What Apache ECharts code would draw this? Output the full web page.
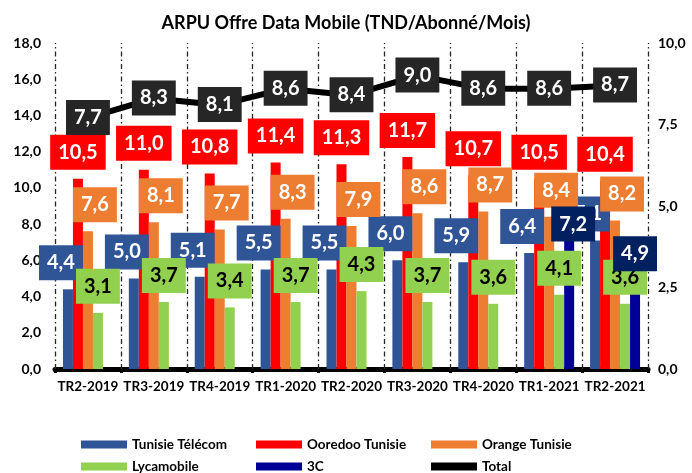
<!DOCTYPE html>
<html>
<head>
<meta charset="utf-8">
<script src="https://cdn.jsdelivr.net/npm/echarts@6/dist/echarts.min.js"></script>
<style>
  html, body { margin: 0; padding: 0; background: #fff; }
  #chart { width: 692px; height: 473px; }
</style>
</head>
<body>
<div id="chart"></div>
<script>
// categories (trimestres)
const categories = ['TR2-2019', 'TR3-2019', 'TR4-2019', 'TR1-2020', 'TR2-2020', 'TR3-2020', 'TR4-2020', 'TR1-2021', 'TR2-2021']

// ARPU par operateur (TND/abonne/mois)
const tunisieTelecom = [4.4, 5.0, 5.1, 5.5, 5.5, 6.0, 5.9, 6.4, 7.1]
const ooredoo = [10.5, 11.0, 10.8, 11.4, 11.3, 11.7, 10.7, 10.5, 10.4]
const orangeTn = [7.6, 8.1, 7.7, 8.3, 7.9, 8.6, 8.7, 8.4, 8.2]
const lycamobile = [3.1, 3.7, 3.4, 3.7, 4.3, 3.7, 3.6, 4.1, 3.6]
const troisC = [null, null, null, null, null, null, null, 7.2, 4.9]
const total = [7.7, 8.3, 8.1, 8.6, 8.4, 9.0, 8.6, 8.6, 8.7]

const leftTicks = { min: 0, max: 18, interval: 2 }
const rightTicks = { min: 0, max: 10, interval: 2.5 }

const FONT = 'Lato, "DejaVu Sans", sans-serif'
const fmt = v => v.toFixed(1).replace('.', ',')

// etiquette "boite" facon Excel
function boxLabel(bg, color, dx) {
  return {
    show: true,
    position: 'top',
    distance: 9,
    offset: [dx || 0, 0],
    backgroundColor: bg,
    color: color,
    fontFamily: FONT,
    fontWeight: 'bold',
    fontSize: 20,
    lineHeight: 21,
    padding: [7, 8, 7, 8],
    formatter: p => (p.value == null ? '' : fmt(p.value))
  }
}

function barSeries(name, data, color, label) {
  return {
    name: name,
    type: 'bar',
    data: data,
    barWidth: 10,
    barGap: '0%',
    itemStyle: { color: color },
    label: label
  }
}

// 3C : l'etiquette de TR1-2021 est placee plus bas
const troisCData = troisC.map((v, i) => {
  if (i === 7) return { value: v, label: { offset: [4, 12] } }
  return v
})

// limites des categories (0..9) pour les separateurs verticaux
const boundaries = categories.map((c, i) => i).concat([categories.length])

const chart = echarts.init(document.getElementById('chart'))

chart.setOption({
  animation: false,
  backgroundColor: '#fff',
  title: {
    text: 'ARPU Offre Data Mobile (TND/Abonné/Mois)',
    left: 'center',
    top: 9,
    textStyle: { fontFamily: FONT, fontWeight: 'bold', fontSize: 18, color: '#000' }
  },
  grid: { left: 55, right: 44, top: 43, bottom: 104 },
  legend: [
    { data: ['Tunisie Télécom', 'Lycamobile'], left: 76 },
    { data: ['Ooredoo Tunisie', '3C'], left: 251 },
    { data: ['Orange Tunisie', 'Total'], left: 426 }
  ].map(l => Object.assign({
    orient: 'vertical',
    top: 431,
    height: 80,
    itemWidth: 46,
    itemHeight: 8,
    itemGap: 5,
    icon: 'rect',
    textStyle: { fontFamily: FONT, fontWeight: 'bold', fontSize: 13.5, color: '#000', lineHeight: 17 }
  }, l)),
  xAxis: [{
    type: 'category',
    data: categories,
    axisLine: { lineStyle: { color: '#000', width: 5 } },
    axisTick: { show: true, interval: 0, length: 4, lineStyle: { color: '#000', width: 3 } },
    axisLabel: { interval: 0, fontFamily: FONT, fontWeight: 'bold', fontSize: 13.5, color: '#000', margin: 11 },
    splitLine: { show: false }
  }, {
    // axe auxiliaire : positions des limites de categories
    type: 'value',
    min: 0,
    max: categories.length,
    interval: 1,
    position: 'bottom',
    axisLine: { show: false },
    axisTick: { show: false },
    axisLabel: { show: false },
    splitLine: { show: false }
  }],
  yAxis: [{
    type: 'value',
    min: leftTicks.min,
    max: leftTicks.max,
    interval: leftTicks.interval,
    axisLine: { show: false },
    axisTick: { show: false },
    splitLine: { show: false },
    axisLabel: { formatter: fmt, fontFamily: FONT, fontWeight: 'bold', fontSize: 14, color: '#000', margin: 14 }
  }, {
    type: 'value',
    min: rightTicks.min,
    max: rightTicks.max,
    interval: rightTicks.interval,
    axisLine: { show: false },
    axisTick: { show: false },
    splitLine: { show: false },
    axisLabel: { formatter: fmt, fontFamily: FONT, fontWeight: 'bold', fontSize: 14, color: '#000', margin: 10 }
  }],
  series: [
    {
      // series vide, seulement pour les separateurs verticaux (tiret-point)
      type: 'line',
      xAxisIndex: 1,
      yAxisIndex: 0,
      data: [],
      silent: true,
      z: 0,
      markLine: {
        silent: true,
        z: 1,
        symbol: 'none',
        label: { show: false },
        lineStyle: { color: '#262626', width: 1.3, type: [5, 3, 1.5, 3] },
        data: boundaries.map(b => ({ xAxis: b }))
      }
    },
    barSeries('Tunisie Télécom', tunisieTelecom, '#2F5597', boxLabel('#2F5597', '#fff', -7)),
    barSeries('Ooredoo Tunisie', ooredoo, '#FF0000', boxLabel('#FF0000', '#fff', 0)),
    barSeries('Orange Tunisie', orangeTn, '#ED7D31', boxLabel('#ED7D31', '#fff', 7)),
    barSeries('Lycamobile', lycamobile, '#92D050', boxLabel('#92D050', '#000', 0)),
    barSeries('3C', troisCData, '#000099', boxLabel('#002060', '#fff', 0)),
    {
      name: 'Total',
      type: 'line',
      yAxisIndex: 1,
      data: total,
      symbol: 'circle',
      symbolSize: 1,
      showSymbol: true,
      lineStyle: { color: '#000', width: 6 },
      itemStyle: { color: '#000' },
      label: Object.assign(boxLabel('#262626', '#fff', 0), { position: 'top', distance: 0, offset: [0, 17.5] }),
      z: 3
    }
  ]
})
</script>
</body>
</html>
